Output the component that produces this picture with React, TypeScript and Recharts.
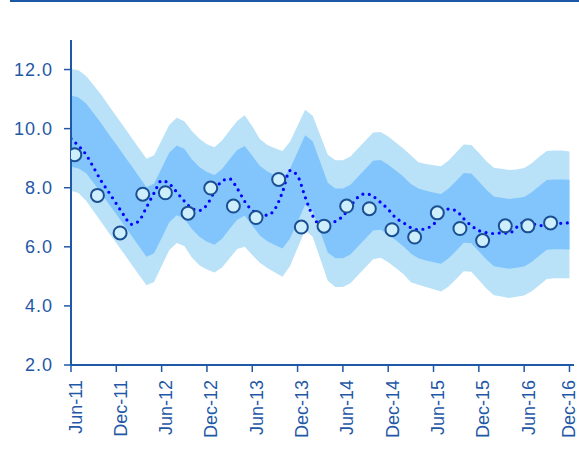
import React from "react";
import { ComposedChart, Area, Line, Scatter, XAxis, YAxis } from "recharts";

// Monthly series, Jun-11 (index 0) to Dec-16 (index 66)
const outerHi = [12.02, 11.98, 11.78, 11.47, 11.15, 10.78, 10.42, 10.06, 9.7, 9.34, 8.98, 9.1, 9.61, 10.12, 10.37, 10.25, 9.92, 9.66, 9.47, 9.37, 9.6, 9.94, 10.26, 10.45, 10.08, 9.65, 9.45, 9.34, 9.24, 9.56, 10.1, 10.64, 10.44, 9.78, 9.12, 8.93, 8.93, 9.06, 9.33, 9.6, 9.87, 9.89, 9.73, 9.53, 9.33, 9.1, 8.86, 8.8, 8.76, 8.73, 8.92, 9.19, 9.46, 9.45, 9.18, 8.9, 8.68, 8.64, 8.6, 8.62, 8.67, 8.83, 9.05, 9.24, 9.26, 9.26, 9.23];
const outerLo = [7.9, 7.82, 7.56, 7.2, 6.84, 6.48, 6.13, 5.77, 5.41, 5.05, 4.7, 4.81, 5.35, 5.88, 6.13, 6.03, 5.64, 5.38, 5.23, 5.13, 5.3, 5.61, 5.93, 6.0, 5.72, 5.46, 5.28, 5.13, 4.99, 5.35, 5.96, 6.56, 6.34, 5.6, 4.85, 4.64, 4.64, 4.77, 5.04, 5.31, 5.58, 5.63, 5.48, 5.28, 5.08, 4.8, 4.72, 4.64, 4.56, 4.49, 4.66, 4.91, 5.17, 5.16, 4.88, 4.59, 4.36, 4.32, 4.27, 4.31, 4.35, 4.5, 4.7, 4.91, 4.94, 4.94, 4.94];
const innerHi = [11.12, 11.05, 10.85, 10.52, 10.18, 9.81, 9.46, 9.1, 8.74, 8.38, 8.02, 8.14, 8.66, 9.18, 9.43, 9.32, 8.96, 8.7, 8.53, 8.43, 8.63, 8.96, 9.28, 9.41, 9.08, 8.74, 8.55, 8.42, 8.3, 8.64, 9.21, 9.78, 9.57, 8.87, 8.17, 7.97, 7.97, 8.1, 8.37, 8.64, 8.91, 8.94, 8.78, 8.58, 8.38, 8.13, 7.97, 7.9, 7.84, 7.79, 7.97, 8.23, 8.5, 8.48, 8.21, 7.93, 7.7, 7.66, 7.62, 7.65, 7.69, 7.85, 8.06, 8.26, 8.28, 8.28, 8.27];
const innerLo = [8.72, 8.65, 8.49, 8.16, 7.82, 7.45, 7.1, 6.74, 6.38, 6.02, 5.66, 5.78, 6.3, 6.82, 7.07, 6.96, 6.6, 6.34, 6.17, 6.07, 6.27, 6.6, 6.92, 7.05, 6.72, 6.38, 6.19, 6.06, 5.94, 6.28, 6.85, 7.42, 7.21, 6.51, 5.81, 5.61, 5.61, 5.74, 6.01, 6.28, 6.55, 6.58, 6.42, 6.22, 6.02, 5.77, 5.61, 5.54, 5.48, 5.43, 5.61, 5.87, 6.14, 6.12, 5.85, 5.57, 5.34, 5.3, 5.26, 5.29, 5.33, 5.49, 5.7, 5.9, 5.92, 5.92, 5.91];
const projection = [9.66, 9.42, 9.12, 8.68, 8.23, 7.85, 7.46, 7.07, 6.76, 6.88, 7.34, 7.82, 8.24, 8.14, 7.85, 7.55, 7.3, 7.23, 7.42, 7.87, 8.23, 8.3, 7.98, 7.54, 7.23, 7.12, 7.07, 7.28, 7.85, 8.58, 8.4, 7.69, 7.05, 6.76, 6.78, 6.86, 7.04, 7.37, 7.68, 7.8, 7.71, 7.5, 7.27, 6.98, 6.82, 6.65, 6.58, 6.62, 6.76, 7.08, 7.28, 7.22, 6.95, 6.72, 6.55, 6.48, 6.45, 6.47, 6.46, 6.66, 6.83, 6.8, 6.72, 6.72, 6.77, 6.8, 6.81];

// Quarterly observations (mid-month positions)
const obsMonth = [0.5, 3.5, 6.5, 9.5, 12.5, 15.5, 18.5, 21.5, 24.5, 27.5, 30.5, 33.5, 36.5, 39.5, 42.5, 45.5, 48.5, 51.5, 54.5, 57.5, 60.5, 63.5];
const obsValue = [9.12, 7.74, 6.47, 7.78, 7.83, 7.14, 7.99, 7.38, 6.99, 8.28, 6.67, 6.7, 7.38, 7.29, 6.58, 6.33, 7.15, 6.62, 6.21, 6.71, 6.71, 6.81];

const tickMonths = [0, 6, 12, 18, 24, 30, 36, 42, 48, 54, 60, 66];
const tickLabels = ["Jun-11", "Dec-11", "Jun-12", "Dec-12", "Jun-13", "Dec-13", "Jun-14", "Dec-14", "Jun-15", "Dec-15", "Jun-16", "Dec-16"];
const yTicks = [2, 4, 6, 8, 10, 12];

const data = outerHi.map((v, i) => ({
  m: i,
  ot: v,
  ob: outerLo[i],
  it: innerHi[i],
  ib: innerLo[i],
  c: projection[i],
}));
const obsData = obsMonth.map((m, i) => ({ m, v: obsValue[i] }));

const AXIS = "#1f58a6";
const FONT = "'Liberation Sans', Arial, sans-serif";

const XTick = (props: any) => {
  const { x, y, payload } = props;
  const idx = tickMonths.indexOf(payload.value);
  const label = idx >= 0 ? tickLabels[idx] : "";
  const bx = Math.min(x + 10.5, 574.5);
  return (
    <g transform={`translate(${bx},${y + 8})`}>
      <text
        transform="rotate(-90)"
        textAnchor="end"
        fontSize={18}
        fontFamily={FONT}
        fill={AXIS}
      >
        {label}
      </text>
    </g>
  );
};

const YTick = (props: any) => {
  const { x, y, payload } = props;
  return (
    <text
      x={x}
      y={y}
      dy="0.36em"
      textAnchor="end"
      fontSize={18}
      letterSpacing={1}
      fontFamily={FONT}
      fill={AXIS}
    >
      {Number(payload.value).toFixed(1)}
    </text>
  );
};

const ObsDot = (props: any) => {
  const { cx, cy } = props;
  return <circle cx={cx} cy={cy} r={6.5} fill="#cdeefc" stroke="#1b4f92" strokeWidth={2} />;
};

export default function App() {
  return (
    <div style={{ position: "absolute", left: 0, top: 0, width: 579, height: 457, background: "#fff" }}>
      <div style={{ position: "absolute", left: 10, top: 0, width: 569, height: 2, background: "#1c58a4" }} />
      <ComposedChart
        width={579}
        height={457}
        data={data}
        margin={{ top: 40, right: 5, bottom: 0, left: 0 }}
      >
        <XAxis
          dataKey="m"
          type="number"
          domain={[0, 66.6]}
          ticks={tickMonths}
          interval={0}
          allowDataOverflow
          height={92}
          tickSize={7}
          tickMargin={0}
          tick={<XTick />}
          axisLine={{ stroke: AXIS, strokeWidth: 2 }}
          tickLine={{ stroke: AXIS, strokeWidth: 1.5 }}
        />
        <YAxis
          type="number"
          domain={[2, 13]}
          ticks={yTicks}
          interval={0}
          allowDataOverflow
          width={71}
          tickSize={7}
          tickMargin={11}
          tick={<YTick />}
          axisLine={{ stroke: AXIS, strokeWidth: 2 }}
          tickLine={{ stroke: AXIS, strokeWidth: 1.5 }}
        />
        <Area
          type="linear"
          dataKey={(d: any) => [d.ob, d.ot]}
          stroke="none"
          fill="#b9e2f8"
          fillOpacity={1}
          isAnimationActive={false}
        />
        <Area
          type="linear"
          dataKey={(d: any) => [d.ib, d.it]}
          stroke="none"
          fill="#82c5fc"
          fillOpacity={1}
          isAnimationActive={false}
        />
        <Scatter data={obsData} dataKey="v" shape={<ObsDot />} isAnimationActive={false} />
        <Line
          type="monotone"
          dataKey="c"
          stroke="#0000ff"
          strokeWidth={3.2}
          strokeDasharray="0 6.6"
          strokeLinecap="round"
          dot={false}
          activeDot={false}
          isAnimationActive={false}
        />
      </ComposedChart>
    </div>
  );
}
